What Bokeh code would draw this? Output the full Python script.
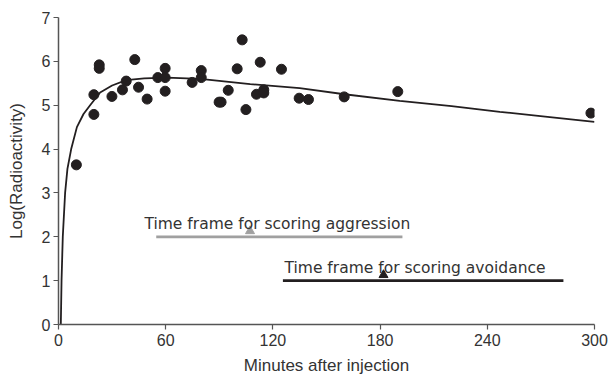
from bokeh.plotting import figure
from bokeh.models import Range1d, FixedTicker
from bokeh.embed import file_html
from bokeh.resources import INLINE
from bokeh.core.properties import value

# Observed samples (minutes after injection, log radioactivity)
obs_minutes = [10, 19.8, 19.8, 22.8, 22.8, 29.9, 35.8, 37.9, 42.7, 44.8, 49.6, 55.6,
               59.7, 59.7, 59.7, 74.8, 79.9, 79.9, 89.9, 91, 95, 100, 102.8, 104.9,
               110.8, 112.9, 114.9, 114.9, 124.8, 134.7, 139.9, 159.9, 189.9, 298]
obs_log = [3.64, 5.24, 4.79, 5.92, 5.84, 5.2, 5.35, 5.55, 6.04, 5.41, 5.14, 5.63,
           5.84, 5.63, 5.32, 5.52, 5.79, 5.63, 5.07, 5.07, 5.34, 5.83, 6.49, 4.9,
           5.25, 5.98, 5.35, 5.28, 5.82, 5.16, 5.13, 5.19, 5.31, 4.82]

# Fitted curve
fit_minutes = [1.3, 1.7, 2.4, 3.7, 5, 7.1, 10.3, 14, 17.7, 23.3, 30, 37.9, 48, 60.6,
               79.3, 107.3, 135, 160, 191, 220, 247, 275, 300]
fit_log = [0, 1, 2, 3, 3.55, 4, 4.5, 4.8, 5, 5.29, 5.45, 5.57, 5.61, 5.63,
           5.6, 5.48, 5.39, 5.25, 5.10, 4.98, 4.85, 4.73, 4.62]

# Time frames
frame_labels = ["Time frame for scoring aggression", "Time frame for scoring avoidance"]
frame_start = [54.7, 125.6]
frame_end = [192.5, 282.6]
frame_level = [2, 1]
frame_marker = [107.2, 181.9]
frame_label_x = [48.1, 126.5]
frame_colors = ["#a0a0a0", "#231f20"]

x_ticks = [0, 60, 120, 180, 240, 300]
y_ticks = [0, 1, 2, 3, 4, 5, 6, 7]

p = figure(width=611, height=378, output_backend="svg", toolbar_location=None,
           x_range=Range1d(0, 300), y_range=Range1d(0, 7),
           min_border_left=58, min_border_right=17, min_border_top=17, min_border_bottom=54)
p.outline_line_color = None
p.grid.visible = False
p.background_fill_color = "white"

for ax in (p.xaxis[0], p.yaxis[0]):
    ax.axis_line_color = "#555555"
    ax.axis_line_width = 1.5
    ax.major_tick_line_color = "#555555"
    ax.major_tick_line_width = 1.2
    ax.major_tick_in = 0
    ax.major_tick_out = 5
    ax.minor_tick_line_color = None
    ax.major_label_text_font = "Liberation Sans"
    ax.major_label_text_font_size = "16px"
    ax.major_label_text_color = "#333333"
    ax.axis_label_text_font = "Liberation Sans"
    ax.axis_label_text_font_size = "17px"
    ax.axis_label_text_font_style = "normal"
    ax.axis_label_text_color = "#333333"

p.xaxis.ticker = FixedTicker(ticks=x_ticks)
p.yaxis.ticker = FixedTicker(ticks=y_ticks)
p.xaxis.axis_label = "Minutes after injection"
p.yaxis.axis_label = "Log(Radioactivity)"
p.xaxis.major_label_standoff = 4
p.yaxis.major_label_standoff = 3
p.xaxis.axis_label_standoff = 7
p.yaxis.axis_label_standoff = 13

p.line(fit_minutes, fit_log, line_color="#231f20", line_width=1.8)
p.scatter(obs_minutes, obs_log, size=10, color="#231f20")

for i in range(2):
    lvl = frame_level[i]
    p.segment(x0=[frame_start[i]], y0=[lvl], x1=[frame_end[i]], y1=[lvl],
              line_color=frame_colors[i], line_width=2.8)
    p.scatter([frame_marker[i]], [lvl + 0.13], marker="triangle", size=9,
              color=frame_colors[i])
    p.text([frame_label_x[i]], [lvl + 0.29], text=[frame_labels[i]],
           text_font=value("DejaVu Sans"), text_font_size="15.5px",
           text_color="#333333", text_align="left", text_baseline="alphabetic")

open("out.html", "w").write(file_html(p, INLINE))
